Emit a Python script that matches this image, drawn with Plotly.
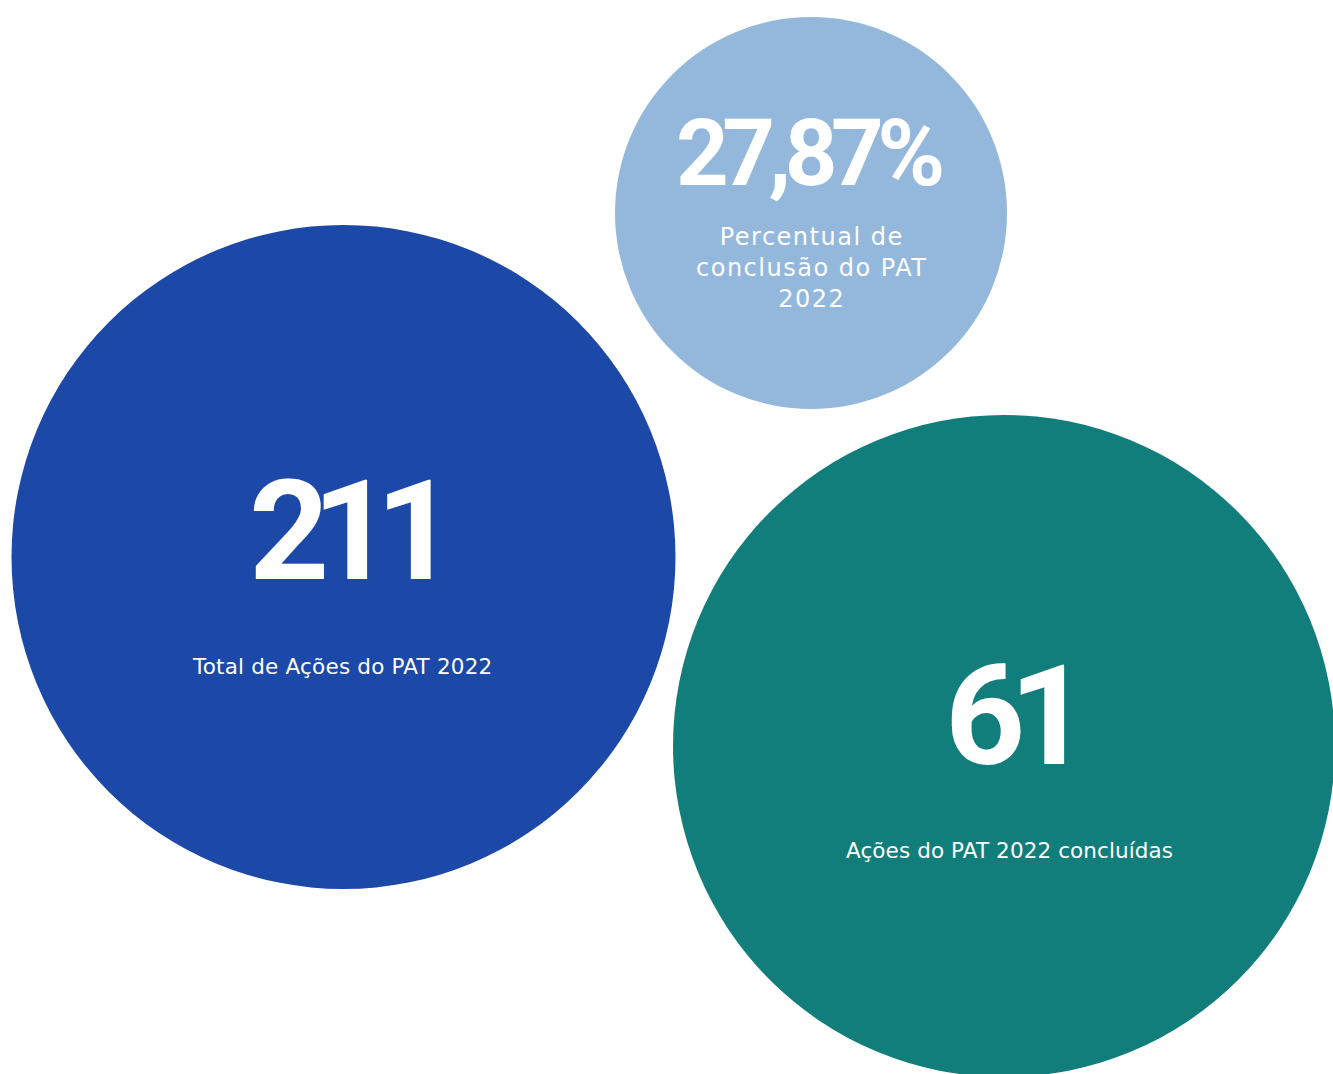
import plotly.graph_objects as go

# ---- data ----
values = ["211", "27,87%", "61"]
labels = ["Total de Ações do PAT 2022",
          "Percentual de<br>conclusão do PAT<br>2022",
          "Ações do PAT 2022 concluídas"]
colors = ["#1C48A8", "#93B8DC", "#127E7B"]

# ---- layout (positions in pixel-like axis units) ----
centers = [(343.5, 557), (811, 213), (1004, 746)]
radii = [332, 196, 331]
value_x = [343.5, 809, 1009]
value_y = [531, 153, 716]
label_x = [341.5, 811, 1009]
label_y = [666, 268, 850]
value_size = [140, 92, 140]
value_track = [-17, -6.5, -16]
label_size = [21.5, 24, 21.5]
label_track = [0.2, 1.5, 0.1]

W, H = 1333, 1074
fig = go.Figure()

shapes = []
for (cx, cy), r, c in zip(centers, radii, colors):
    shapes.append(dict(type="circle", xref="x", yref="y",
                       x0=cx - r, x1=cx + r, y0=cy - r, y1=cy + r,
                       fillcolor=c, line=dict(width=0), layer="below"))

annotations = []
for i in range(3):
    vtxt = '<span style="letter-spacing:%spx">%s</span>' % (value_track[i], values[i])
    annotations.append(dict(x=value_x[i], y=value_y[i], xref="x", yref="y",
                            text=vtxt, showarrow=False,
                            xanchor="center", yanchor="middle",
                            font=dict(family="Roboto, sans-serif",
                                      size=value_size[i], color="white",
                                      weight="bold")))
    ltxt = "<br>".join('<span style="letter-spacing:%spx">%s</span>' % (label_track[i], t)
                       for t in labels[i].split("<br>"))
    annotations.append(dict(x=label_x[i], y=label_y[i], xref="x", yref="y",
                            text=ltxt, showarrow=False,
                            xanchor="center", yanchor="middle",
                            font=dict(family="DejaVu Sans, sans-serif",
                                      size=label_size[i], color="white")))

fig.update_layout(
    width=W, height=H,
    margin=dict(l=0, r=0, t=0, b=0),
    paper_bgcolor="white", plot_bgcolor="white",
    shapes=shapes, annotations=annotations,
    xaxis=dict(range=[0, W], visible=False, fixedrange=True),
    yaxis=dict(range=[H, 0], visible=False, fixedrange=True),
    showlegend=False,
    hovermode=False,
)
fig.write_html("out.html", config={"displayModeBar": False},
               post_script="document.body.style.margin='0';")
